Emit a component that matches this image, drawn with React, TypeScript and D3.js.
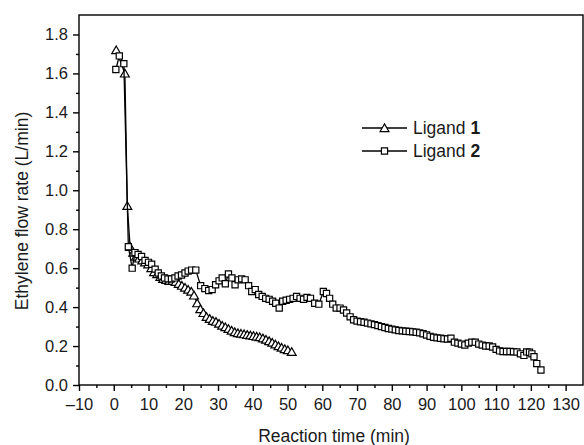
import * as d3 from "d3";
import React, { useEffect, useRef } from "react";

// Ligand 1 (triangles)
const time1 = [0.7, 3.2, 3.9, 4.7, 5.6, 6.4, 7.3, 8.2, 9.0, 9.9, 10.8, 11.6, 12.5, 13.4, 14.2, 15.1, 16.0, 16.9, 17.8, 18.7, 19.6, 20.5, 21.4, 22.3, 23.1, 24.0, 24.9, 25.8, 26.7, 27.6, 28.5, 29.4, 30.3, 31.2, 32.1, 33.0, 33.9, 34.8, 35.7, 36.6, 37.5, 38.4, 39.3, 40.2, 41.1, 42.0, 42.9, 43.8, 44.7, 45.6, 46.5, 47.4, 48.3, 49.2, 50.1, 51.2];
const flow1 = [1.72, 1.60, 0.92, 0.71, 0.68, 0.66, 0.65, 0.64, 0.63, 0.62, 0.60, 0.58, 0.57, 0.555, 0.545, 0.54, 0.535, 0.535, 0.53, 0.52, 0.51, 0.50, 0.49, 0.48, 0.46, 0.42, 0.39, 0.37, 0.35, 0.34, 0.33, 0.325, 0.315, 0.305, 0.297, 0.288, 0.28, 0.272, 0.267, 0.264, 0.261, 0.258, 0.255, 0.252, 0.249, 0.246, 0.24, 0.233, 0.226, 0.218, 0.209, 0.2, 0.192, 0.185, 0.179, 0.17];

// Ligand 2 (squares)
const time2 = [0.6, 1.6, 2.9, 4.2, 5.3, 6.1, 7.0, 8.0, 9.0, 10.0, 10.9, 11.9, 12.8, 13.7, 14.6, 15.6, 16.6, 17.6, 18.5, 19.5, 20.5, 21.4, 22.4, 23.6, 25.0, 26.2, 27.3, 28.3, 29.3, 30.3, 31.2, 32.1, 33.0, 34.0, 34.9, 35.8, 36.8, 37.8, 38.8, 39.7, 40.7, 41.7, 42.7, 43.7, 44.7, 45.7, 46.6, 47.6, 48.6, 49.6, 50.6, 51.6, 52.6, 53.6, 54.6, 55.6, 56.6, 57.8, 59.0, 60.3, 61.2, 62.1, 63.0, 64.0, 65.1, 66.1, 67.0, 68.0, 69.0, 70.0, 71.0, 72.0, 73.0, 74.0, 75.0, 76.0, 77.0, 78.0, 79.0, 80.0, 81.0, 82.0, 83.0, 84.0, 85.0, 86.0, 87.0, 88.0, 89.0, 90.0, 91.0, 92.0, 93.0, 94.0, 95.0, 96.0, 97.0, 98.0, 99.0, 100.0, 101.0, 102.0, 103.0, 104.0, 105.0, 106.0, 107.0, 108.0, 109.0, 110.0, 111.0, 112.0, 113.0, 114.0, 115.0, 116.0, 117.0, 118.0, 118.8, 119.6, 120.3, 120.9, 121.7, 122.9];
const flow2 = [1.62, 1.69, 1.65, 0.71, 0.60, 0.68, 0.67, 0.66, 0.64, 0.63, 0.62, 0.595, 0.575, 0.56, 0.55, 0.545, 0.545, 0.55, 0.56, 0.565, 0.575, 0.585, 0.59, 0.59, 0.51, 0.495, 0.485, 0.49, 0.515, 0.535, 0.55, 0.52, 0.57, 0.55, 0.515, 0.54, 0.545, 0.54, 0.51, 0.48, 0.49, 0.465, 0.455, 0.445, 0.44, 0.43, 0.42, 0.395, 0.43, 0.435, 0.44, 0.445, 0.455, 0.445, 0.44, 0.45, 0.445, 0.42, 0.415, 0.48, 0.47, 0.445, 0.415, 0.395, 0.395, 0.385, 0.37, 0.35, 0.335, 0.328, 0.325, 0.322, 0.318, 0.314, 0.31, 0.305, 0.30, 0.295, 0.29, 0.287, 0.283, 0.28, 0.278, 0.276, 0.275, 0.273, 0.271, 0.268, 0.263, 0.257, 0.25, 0.245, 0.242, 0.24, 0.237, 0.236, 0.24, 0.22, 0.215, 0.21, 0.205, 0.215, 0.22, 0.22, 0.21, 0.205, 0.2, 0.2, 0.195, 0.183, 0.175, 0.172, 0.172, 0.172, 0.171, 0.17, 0.16, 0.152, 0.17, 0.168, 0.16, 0.145, 0.11, 0.077];

const xTicks = [-10, 0, 10, 20, 30, 40, 50, 60, 70, 80, 90, 100, 110, 120, 130];
const yTicks = [0.0, 0.2, 0.4, 0.6, 0.8, 1.0, 1.2, 1.4, 1.6, 1.8];
const legendLabels = ["1", "2"];

const App = () => {
    const svgRef = useRef<SVGSVGElement>(null);

    const width = 584;
    const height = 445;
    const left = 79;
    const right = 583;
    const top = 15;
    const bottom = 385;
    const font = "Liberation Sans, Arial, sans-serif";
    const ink = "#1a1a1a";

    useEffect(() => {
        const svg = d3.select(svgRef.current);
        svg.selectAll("*").remove();

        const x = d3.scaleLinear().domain([-10, 135]).range([left, right]);
        const y = d3.scaleLinear().domain([0, 1.9]).range([bottom, top]);

        // frame
        svg.append("rect")
            .attr("x", left).attr("y", top)
            .attr("width", right - left).attr("height", bottom - top)
            .attr("fill", "none").attr("stroke", "#000").attr("stroke-width", 1.4);

        // x axis
        const xMinor = d3.range(-10, 131, 5).filter((d) => d % 10 !== 0);
        const xg = svg.append("g").attr("transform", `translate(0,${bottom})`);
        xg.call(d3.axisBottom(x).tickValues(xTicks).tickSize(6).tickPadding(7)
            .tickFormat((d) => (+d < 0 ? "\u2013" + Math.abs(+d) : String(d))));
        xg.append("g").call(d3.axisBottom(x).tickValues(xMinor).tickSize(3).tickFormat(() => ""));
        xg.selectAll(".domain").remove();
        xg.selectAll("line").attr("stroke", "#000").attr("stroke-width", 1.4);
        xg.selectAll("text").attr("font-family", font).attr("font-size", 16.5).attr("fill", ink);

        // y axis
        const yMinor = d3.range(1, 19, 2).map((d) => d / 10);
        const yg = svg.append("g").attr("transform", `translate(${left},0)`);
        yg.call(d3.axisLeft(y).tickValues(yTicks).tickSize(6).tickPadding(5).tickFormat(d3.format(".1f")));
        yg.append("g").call(d3.axisLeft(y).tickValues(yMinor).tickSize(3).tickFormat(() => ""));
        yg.selectAll(".domain").remove();
        yg.selectAll("line").attr("stroke", "#000").attr("stroke-width", 1.4);
        yg.selectAll("text").attr("font-family", font).attr("font-size", 16.5).attr("fill", ink);

        // axis titles
        svg.append("text")
            .attr("x", 334).attr("y", 442)
            .attr("text-anchor", "middle")
            .attr("font-family", font).attr("font-size", 17.5).attr("fill", ink)
            .text("Reaction time (min)");
        svg.append("text")
            .attr("transform", `translate(28,${(top + bottom) / 2 + 11}) rotate(-90)`)
            .attr("text-anchor", "middle")
            .attr("font-family", font).attr("font-size", 17.5).attr("fill", ink)
            .text("Ethylene flow rate (L/min)");

        const tri = d3.symbol().type(d3.symbolTriangle).size(34);
        const sq = d3.symbol().type(d3.symbolSquare).size(38);

        const series = [
            { t: time1, v: flow1, sym: tri, dy: 1 },
            { t: time2, v: flow2, sym: sq, dy: 0 },
        ];

        series.forEach((s) => {
            const pts = s.t.map((t, i) => [x(t), y(s.v[i])] as [number, number]);
            svg.append("path")
                .attr("d", d3.line()(pts))
                .attr("fill", "none").attr("stroke", "#000").attr("stroke-width", 1.3);
            svg.append("g").selectAll("path")
                .data(pts)
                .enter()
                .append("path")
                .attr("d", s.sym() as string)
                .attr("transform", (d) => `translate(${d[0]},${d[1] + s.dy})`)
                .attr("fill", "#fff")
                .attr("stroke", "#000")
                .attr("stroke-width", 1.2);
        });

        // legend
        const legendSyms = [tri, sq];
        legendLabels.forEach((lab, i) => {
            const ly = 128 + i * 23;
            const g = svg.append("g");
            g.append("line")
                .attr("x1", 362).attr("x2", 407).attr("y1", ly).attr("y2", ly)
                .attr("stroke", "#000").attr("stroke-width", 1.3);
            g.append("path")
                .attr("d", legendSyms[i]() as string)
                .attr("transform", `translate(384.5,${ly + (i === 0 ? 1 : 0)})`)
                .attr("fill", "#fff").attr("stroke", "#000").attr("stroke-width", 1.2);
            const tx = g.append("text")
                .attr("x", 413).attr("y", ly + 6)
                .attr("font-family", font).attr("font-size", 17.5).attr("fill", ink);
            tx.append("tspan").text("Ligand ");
            tx.append("tspan").attr("font-weight", "bold").text(lab);
        });
    }, []);

    return (
        <svg
            ref={svgRef}
            width={width}
            height={height}
            style={{ position: "absolute", left: 0, top: 0, background: "#fff" }}
        />
    );
};

export default App;
